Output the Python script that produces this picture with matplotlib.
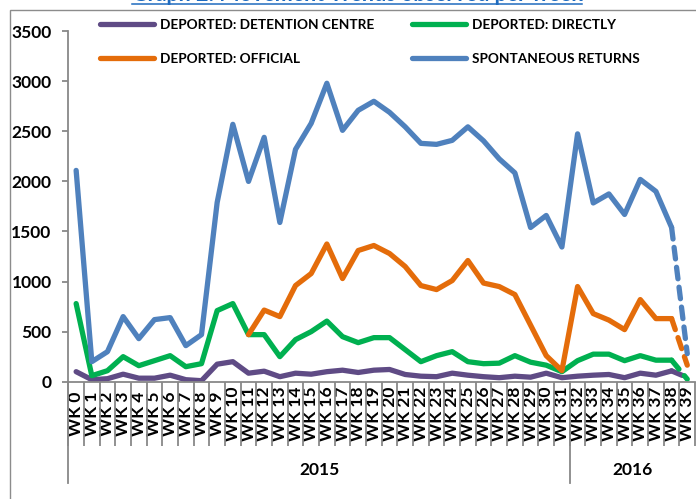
import numpy as np
import matplotlib
matplotlib.use("Agg")
import matplotlib.pyplot as plt
from matplotlib.lines import Line2D
from matplotlib.patches import Rectangle
from matplotlib.transforms import blended_transform_factory

plt.rcParams['font.family'] = ['Lato', 'DejaVu Sans']

# weekly movement counts, WK 0 .. WK 39
weeks = ["WK %d" % i for i in range(40)]
detention = [100, 20, 30, 75, 35, 35, 65, 20, 10, 175, 200, 85, 105, 50, 85, 75, 100, 115, 92, 115,
             122, 72, 55, 50, 85, 65, 50, 40, 55, 45, 85, 40, 55, 65, 72, 40, 85, 65, 108, 42]
directly = [780, 60, 110, 250, 160, 210, 260, 150, 180, 710, 780, 470, 470, 250, 420, 500, 605, 450, 390, 440,
            440, 320, 200, 260, 300, 200, 180, 185, 260, 195, 165, 100, 210, 275, 275, 210, 260, 215, 215, 25]
official = [np.nan] * 11 + [470, 715, 650, 960, 1080, 1375, 1030, 1310, 1360, 1280, 1150, 960, 920, 1010,
                            1210, 985, 950, 870, 565, 260, 110, 950, 680, 615, 520, 820, 630, 630, 165]
spontaneous = [2110, 200, 300, 650, 430, 620, 640, 360, 470, 1790, 2570, 2000, 2440, 1590, 2320, 2580, 2980,
               2510, 2710, 2800, 2690, 2545, 2380, 2370, 2410, 2545, 2405, 2225, 2085, 1540, 1660, 1345, 2475,
               1785, 1875, 1670, 2020, 1900, 1540, 280]

series_names = ["DEPORTED: DETENTION CENTRE", "DEPORTED: DIRECTLY", "DEPORTED: OFFICIAL", "SPONTANEOUS RETURNS"]
series_colors = ["#5f4b85", "#00b050", "#e46c0a", "#4f81bd"]

# year groups: (label, first week, last week)
years = [("2015", 0, 31), ("2016", 32, 39)]

W, H = 696, 499
fig = plt.figure(figsize=(W / 100, H / 100), dpi=100)
ax = fig.add_axes([68.3 / W, 117.3 / H, 626.8 / W, 350.5 / H])

x = np.arange(len(weeks))
lw = 3.8
for vals, col in zip([detention, directly, official, spontaneous], series_colors):
    v = np.array(vals, dtype=float)
    ax.plot(x[:-1], v[:-1], color=col, lw=lw, solid_capstyle='round', solid_joinstyle='round')
    ax.plot(x[-2:], v[-2:], color=col, lw=lw, dashes=(2.2, 1.6), dash_capstyle='round')

ax.set_xlim(-0.5, len(weeks) - 0.5)
ax.set_ylim(0, 3500)
ax.set_yticks(np.arange(0, 3501, 500))

for s in ['top', 'right']:
    ax.spines[s].set_visible(False)
for s in ['left', 'bottom']:
    ax.spines[s].set_color('#888888')
    ax.spines[s].set_linewidth(1.3)

ax.tick_params(axis='y', length=4, width=1.3, color='#888888', pad=8, labelsize=12.5)
for t in ax.get_yticklabels():
    t.set_fontweight('bold')

# category labels centred in the band below the axis, separators as minor ticks
ax.set_xticks(x)
ax.set_xticklabels(weeks, rotation=90, fontsize=12.5, fontweight='bold', va='center')
ax.tick_params(axis='x', which='major', length=0, pad=23)
ax.set_xticks(np.arange(-0.5, len(weeks), 1.0), minor=True)
ax.tick_params(axis='x', which='minor', length=46, width=1.3, color='#888888')

# year group separators and labels
trans = blended_transform_factory(ax.transData, ax.transAxes)
bounds = sorted(set([-0.5] + [b + 0.5 for _, a, b in years]))
for b in bounds[:-1]:
    ax.add_line(Line2D([b, b], [0, -101 / 350.5], transform=trans, color='#888888', lw=1.3, clip_on=False))
for name, a, b in years:
    mid = (a - 0.5 + min(b + 0.5, len(weeks) - 0.5)) / 2
    ax.text(mid, -88 / 350.5, name, transform=trans, ha='center', va='center',
            fontsize=12.5, fontweight='bold')

# legend
handles = [Line2D([], [], color=c, lw=lw, solid_capstyle='round') for c in series_colors]
order = [0, 2, 1, 3]
fig.legend([handles[i] for i in order], [series_names[i] for i in order],
           loc='upper left', bbox_to_anchor=(100 / W, 1 - 19 / H), ncol=2, frameon=False,
           prop={'weight': 'bold', 'size': 9.8}, handlelength=4.0, handletextpad=0.38,
           columnspacing=2.8, labelspacing=1.6, borderpad=0, borderaxespad=0)

# outer chart frame
fig.add_artist(Rectangle((10 / W, -0.05), 1.0, 1 - 10 / H + 0.05, transform=fig.transFigure,
                         fill=False, edgecolor='#8c8c8c', lw=1.0))

# title, mostly cut off by the top edge
title = fig.text(357 / W, 1 - 1.0 / H, "Graph 2: Movement Trends observed per week", ha='center',
                 va='baseline', fontsize=15.5, fontweight='bold', color='#1f6bbf')
fig.canvas.draw()
bb = title.get_window_extent(fig.canvas.get_renderer())
fig.add_artist(Line2D([bb.x0 / W, bb.x1 / W], [1 - 3.6 / H] * 2, transform=fig.transFigure,
                      color='#1f6bbf', lw=1.1))

fig.savefig("out.png", dpi=100)
